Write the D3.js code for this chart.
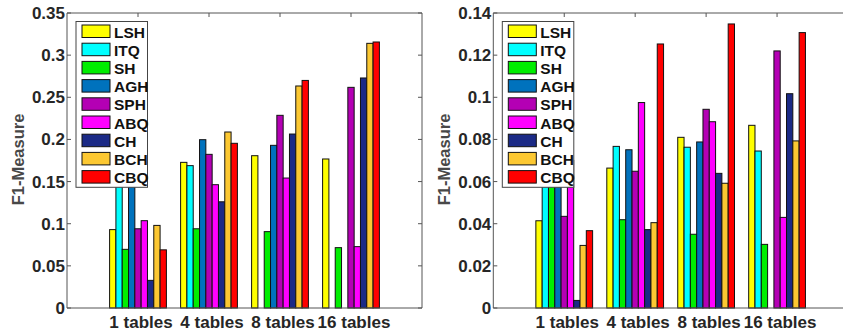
<!DOCTYPE html>
<html>
<head>
<meta charset="utf-8">
<script src="https://cdn.jsdelivr.net/npm/d3@7"></script>
<style>
  body { margin: 0; background: #fff; }
  svg { display: block; font-family: 'Liberation Sans', Arial, sans-serif; font-weight: bold; }
</style>
</head>
<body>
<svg id="chart" width="843" height="331"></svg>
<script>
var categories = ['1 tables', '4 tables', '8 tables', '16 tables'];
var methods = ['LSH', 'ITQ', 'SH', 'AGH', 'SPH', 'ABQ', 'CH', 'BCH', 'CBQ'];

// left panel, one array per category, in method order
var leftOne = [0.093, 0.160, 0.0696, 0.165, 0.094, 0.1036, 0.0328, 0.098, 0.069];
var leftFour = [0.1728, 0.1689, 0.094, 0.1997, 0.1823, 0.1463, 0.126, 0.2088, 0.1954];
var leftEight = [0.1807, 0, 0.0906, 0.193, 0.2286, 0.1542, 0.2064, 0.2634, 0.270];
var leftSixteen = [0.1768, 0, 0.0716, 0, 0.2618, 0.0728, 0.2729, 0.314, 0.3156];

// right panel
var rightOne = [0.0414, 0.065, 0.060, 0.068, 0.0435, 0.070, 0.0036, 0.0297, 0.0367];
var rightFour = [0.0664, 0.0767, 0.0419, 0.0751, 0.0649, 0.0975, 0.0372, 0.0405, 0.1253];
var rightEight = [0.081, 0.0763, 0.035, 0.0788, 0.0943, 0.0884, 0.0639, 0.0592, 0.1348];
var rightSixteen = [0.0867, 0.0745, 0.0302, 0, 0.122, 0.043, 0.1017, 0.0793, 0.1307];

var leftTicks = [0, 0.05, 0.1, 0.15, 0.2, 0.25, 0.3, 0.35];
var rightTicks = [0, 0.02, 0.04, 0.06, 0.08, 0.1, 0.12, 0.14];

(function(d3) {
  'use strict';

  var colorMap = {
    LSH: '#ffff00',
    ITQ: '#00ffff',
    SH: '#00ee00',
    AGH: '#0072bd',
    SPH: '#b400b4',
    ABQ: '#ff00ff',
    CH: '#1b2a86',
    BCH: '#fcc832',
    CBQ: '#ff0000'
  };

  var svg = d3.select('#chart');
  var top = 13, bottom = 308;
  var tickLen = 4;

  function panel(left, right, rows, ticks, clipRight) {
    var yMax = ticks[ticks.length - 1];
    var x = d3.scaleLinear().domain([0, categories.length + 1]).range([left, right]);
    var y = d3.scaleLinear().domain([0, yMax]).range([bottom, top]);
    var inner = d3.scaleBand().domain(methods).range([-0.4, 0.4]);
    var barW = x(inner.bandwidth()) - x(0);

    var g = svg.append('g');

    var cells = [];
    rows.forEach(function(row, ci) {
      row.forEach(function(v, mi) {
        if (v > 0) cells.push({ cat: ci, method: methods[mi], value: v });
      });
    });

    g.selectAll('rect.bar').data(cells).enter().append('rect')
      .attr('class', 'bar')
      .attr('x', function(d) { return x(d.cat + 1 + inner(d.method)); })
      .attr('y', function(d) { return y(d.value); })
      .attr('width', barW)
      .attr('height', function(d) { return y(0) - y(d.value); })
      .attr('fill', function(d) { return colorMap[d.method]; })
      .attr('stroke', '#111')
      .attr('stroke-width', 1);

    // box
    var lineColor = '#555';
    g.append('line').attr('x1', left).attr('x2', right).attr('y1', bottom).attr('y2', bottom)
      .attr('stroke', lineColor);
    g.append('line').attr('x1', left).attr('x2', right).attr('y1', top).attr('y2', top)
      .attr('stroke', lineColor);
    g.append('line').attr('x1', left).attr('x2', left).attr('y1', top).attr('y2', bottom)
      .attr('stroke', lineColor);
    if (!clipRight) {
      g.append('line').attr('x1', right).attr('x2', right).attr('y1', top).attr('y2', bottom)
        .attr('stroke', lineColor);
    }

    // inward ticks
    g.selectAll('line.yt').data(ticks).enter().append('line')
      .attr('x1', left).attr('x2', left + tickLen)
      .attr('y1', function(d) { return y(d); }).attr('y2', function(d) { return y(d); })
      .attr('stroke', lineColor);
    g.selectAll('line.yt2').data(ticks).enter().append('line')
      .attr('x1', right).attr('x2', right - tickLen)
      .attr('y1', function(d) { return y(d); }).attr('y2', function(d) { return y(d); })
      .attr('stroke', lineColor);
    g.selectAll('line.xt').data(categories).enter().append('line')
      .attr('x1', function(d, i) { return x(i + 1); }).attr('x2', function(d, i) { return x(i + 1); })
      .attr('y1', top).attr('y2', top + tickLen)
      .attr('stroke', lineColor);

    g.selectAll('text.yl').data(ticks).enter().append('text')
      .attr('x', left - 2)
      .attr('y', function(d) { return y(d) + 6; })
      .attr('text-anchor', 'end')
      .attr('font-size', 17)
      .attr('fill', '#262626')
      .text(function(d) { return d === 0 ? '0' : String(+d.toFixed(2)); });

    // labels sit on the bottom edge, as in the source figure
    g.selectAll('text.xl').data(categories).enter().append('text')
      .attr('x', function(d, i) { return x(i + 1) + 3; })
      .attr('y', 327.5)
      .attr('text-anchor', 'middle')
      .attr('font-size', 17)
      .attr('fill', '#262626')
      .text(function(d) { return d; });

    g.append('text')
      .attr('transform', 'translate(' + (left - 43) + ',' + ((top + bottom) / 2 - 1) + ') rotate(-90)')
      .attr('text-anchor', 'middle')
      .attr('font-size', 16.5)
      .attr('fill', '#484848')
      .text('F1-Measure');

    // legend
    var lx = left + 9, ly = 21.5, rowH = 18.2;
    var leg = g.append('g');
    leg.append('rect')
      .attr('x', lx).attr('y', ly)
      .attr('width', 71.5).attr('height', methods.length * rowH + 2)
      .attr('fill', '#fff').attr('stroke', '#444');
    var item = leg.selectAll('g.item').data(methods).enter().append('g')
      .attr('transform', function(d, i) { return 'translate(' + lx + ',' + (ly + 3 + i * rowH) + ')'; });
    item.append('rect')
      .attr('x', 6).attr('y', 0.5)
      .attr('width', 28).attr('height', 12.5)
      .attr('fill', function(d) { return colorMap[d]; })
      .attr('stroke', '#111');
    item.append('text')
      .attr('x', 38).attr('y', 13)
      .attr('font-size', 15.5)
      .attr('fill', '#111')
      .text(function(d) { return d; });
  }

  panel(67, 422, [leftOne, leftFour, leftEight, leftSixteen], leftTicks, false);
  panel(493.3, 848, [rightOne, rightFour, rightEight, rightSixteen], rightTicks, true);
}(d3));
</script>
</body>
</html>
